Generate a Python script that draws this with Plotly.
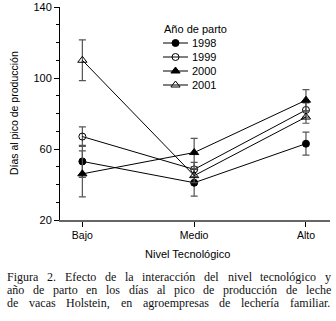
import plotly.graph_objects as go

categories = ["Bajo", "Medio", "Alto"]
years = ["1998", "1999", "2000", "2001"]
values = {
    "1998": [53, 41, 63],
    "1999": [67, 48.5, 82],
    "2000": [46, 58, 87.5],
    "2001": [110, 45, 78],
}
errors = {
    "1998": [9, 7.5, 6.5],
    "1999": [5.5, 4, 4],
    "2000": [13, 8, 6],
    "2001": [11.5, 4, 3.5],
}
symbols = {
    "1998": "circle",
    "1999": "circle-open",
    "2000": "triangle-up",
    "2001": "triangle-up-open",
}
yticks = [20, 60, 100, 140]
caption_lines = [
    "Figura 2. Efecto de la interacción del nivel tecnológico y",
    "año de parto en los días al pico de producción de leche",
    "de vacas Holstein, en agroempresas de lechería familiar.",
]

SANS = "Liberation Sans, Arial, sans-serif"
SERIF = "Liberation Serif, Times New Roman, serif"

W, H = 336, 321
ML, MR, MT, MB = 60, 6, 7, 101
PW, PH = W - ML - MR, H - MT - MB


def px(x):
    return (x - ML) / PW


def py(y):
    return (H - MB - y) / PH


def msize(sym):
    return 8 if "triangle" in sym else 7


fig = go.Figure()
for yr in years:
    fig.add_trace(go.Scatter(
        x=categories, y=values[yr], name=yr, mode="lines+markers",
        line=dict(color="black", width=1),
        marker=dict(symbol=symbols[yr], size=msize(symbols[yr]),
                    color="black", line=dict(color="black", width=1)),
        error_y=dict(type="data", array=errors[yr], visible=True,
                     color="#555555", thickness=1.2, width=3.5),
        showlegend=False,
    ))

# ---- manual legend (compact rows) drawn on a pixel overlay axis ----
LEG_X0, LEG_X1, LEG_TX = 163, 188, 191
LEG_TITLE_Y, LEG_ROW0, LEG_DY = 29, 43, 14
for i, yr in enumerate(years):
    ry = LEG_ROW0 + i * LEG_DY
    fig.add_trace(go.Scatter(
        x=[LEG_X0, LEG_X1], y=[ry, ry], xaxis="x2", yaxis="y2", mode="lines",
        line=dict(color="black", width=1), showlegend=False, hoverinfo="skip"))
    fig.add_trace(go.Scatter(
        x=[(LEG_X0 + LEG_X1) / 2], y=[ry], xaxis="x2", yaxis="y2", mode="markers",
        marker=dict(symbol=symbols[yr], size=msize(symbols[yr]), color="black",
                    line=dict(color="black", width=1)),
        showlegend=False, hoverinfo="skip"))
    fig.add_annotation(text=yr, x=px(LEG_TX), y=py(ry), xref="paper", yref="paper",
                       xanchor="left", yanchor="middle", showarrow=False,
                       font=dict(size=11), borderpad=0)
fig.add_annotation(text="Año de parto", x=px(LEG_X0), y=py(LEG_TITLE_Y), xref="paper",
                   yref="paper", xanchor="left", yanchor="middle", showarrow=False,
                   font=dict(size=11), borderpad=0)

# ---- titles ----
fig.add_annotation(text="Nivel Tecnológico", x=px(187), y=py(254), xref="paper", yref="paper",
                   showarrow=False, font=dict(size=11), xanchor="center", yanchor="middle")
fig.add_annotation(text="Días al pico de producción", x=px(14), y=py(113), xref="paper",
                   yref="paper", showarrow=False, textangle=-90, font=dict(size=10.5),
                   xanchor="center", yanchor="middle")

# ---- justified caption (Times metrics, per 1000 em) ----
TW = {"a": 444, "b": 500, "c": 444, "d": 500, "e": 444, "f": 333, "g": 500, "h": 500,
      "i": 278, "j": 278, "k": 500, "l": 278, "m": 778, "n": 500, "o": 500, "p": 500,
      "q": 500, "r": 333, "s": 389, "t": 278, "u": 500, "v": 500, "w": 722, "x": 500,
      "y": 500, "z": 444, "E": 611, "F": 556, "H": 722, "2": 500, ".": 250, ",": 250,
      "ñ": 500, "í": 278, "ó": 500, "á": 444, "é": 444, "ú": 500}
CAP_SIZE = 12
CAP_X0, CAP_X1, CAP_Y0, CAP_DY = 6, 330, 277, 13


def wwidth(w):
    return sum(TW.get(c, 500) for c in w) * CAP_SIZE / 1000


for li, line in enumerate(caption_lines):
    words = line.split(" ")
    total = sum(wwidth(w) for w in words)
    gap = (CAP_X1 - CAP_X0 - total) / (len(words) - 1)
    xcur = CAP_X0
    for w in words:
        fig.add_annotation(text=w, x=px(xcur), y=py(CAP_Y0 + li * CAP_DY), xref="paper",
                           yref="paper", xanchor="left", yanchor="middle", showarrow=False,
                           borderpad=0, font=dict(family=SERIF, size=CAP_SIZE, color="#111111"))
        xcur += wwidth(w) + gap

fig.update_layout(
    width=W, height=H,
    margin=dict(l=ML, r=MR, t=MT, b=MB, autoexpand=False),
    paper_bgcolor="white", plot_bgcolor="white",
    font=dict(family=SANS, size=11, color="black"),
    showlegend=False,
    xaxis=dict(
        type="category", range=[-0.2, 2.215], automargin=False,
        showline=True, linecolor="#666666", linewidth=1.5,
        ticks="outside", ticklen=5, tickcolor="black",
        showgrid=False, zeroline=False,
        tickfont=dict(size=10.5),
    ),
    yaxis=dict(
        range=[20, 140], tickvals=yticks, automargin=False,
        showline=True, linecolor="black", linewidth=1,
        ticks="outside", ticklen=5, tickcolor="black",
        minor=dict(dtick=10, ticks="outside", ticklen=3, tickcolor="black"),
        showgrid=False, zeroline=False,
        tickfont=dict(size=11),
    ),
    xaxis2=dict(range=[ML, W - MR], overlaying="x", anchor="y2", visible=False,
                fixedrange=True),
    yaxis2=dict(range=[H - MB, MT], overlaying="y", anchor="x2", visible=False,
                fixedrange=True),
)

fig.write_html("out.html", config={"displayModeBar": False},
               post_script="document.body.style.margin='0';")
